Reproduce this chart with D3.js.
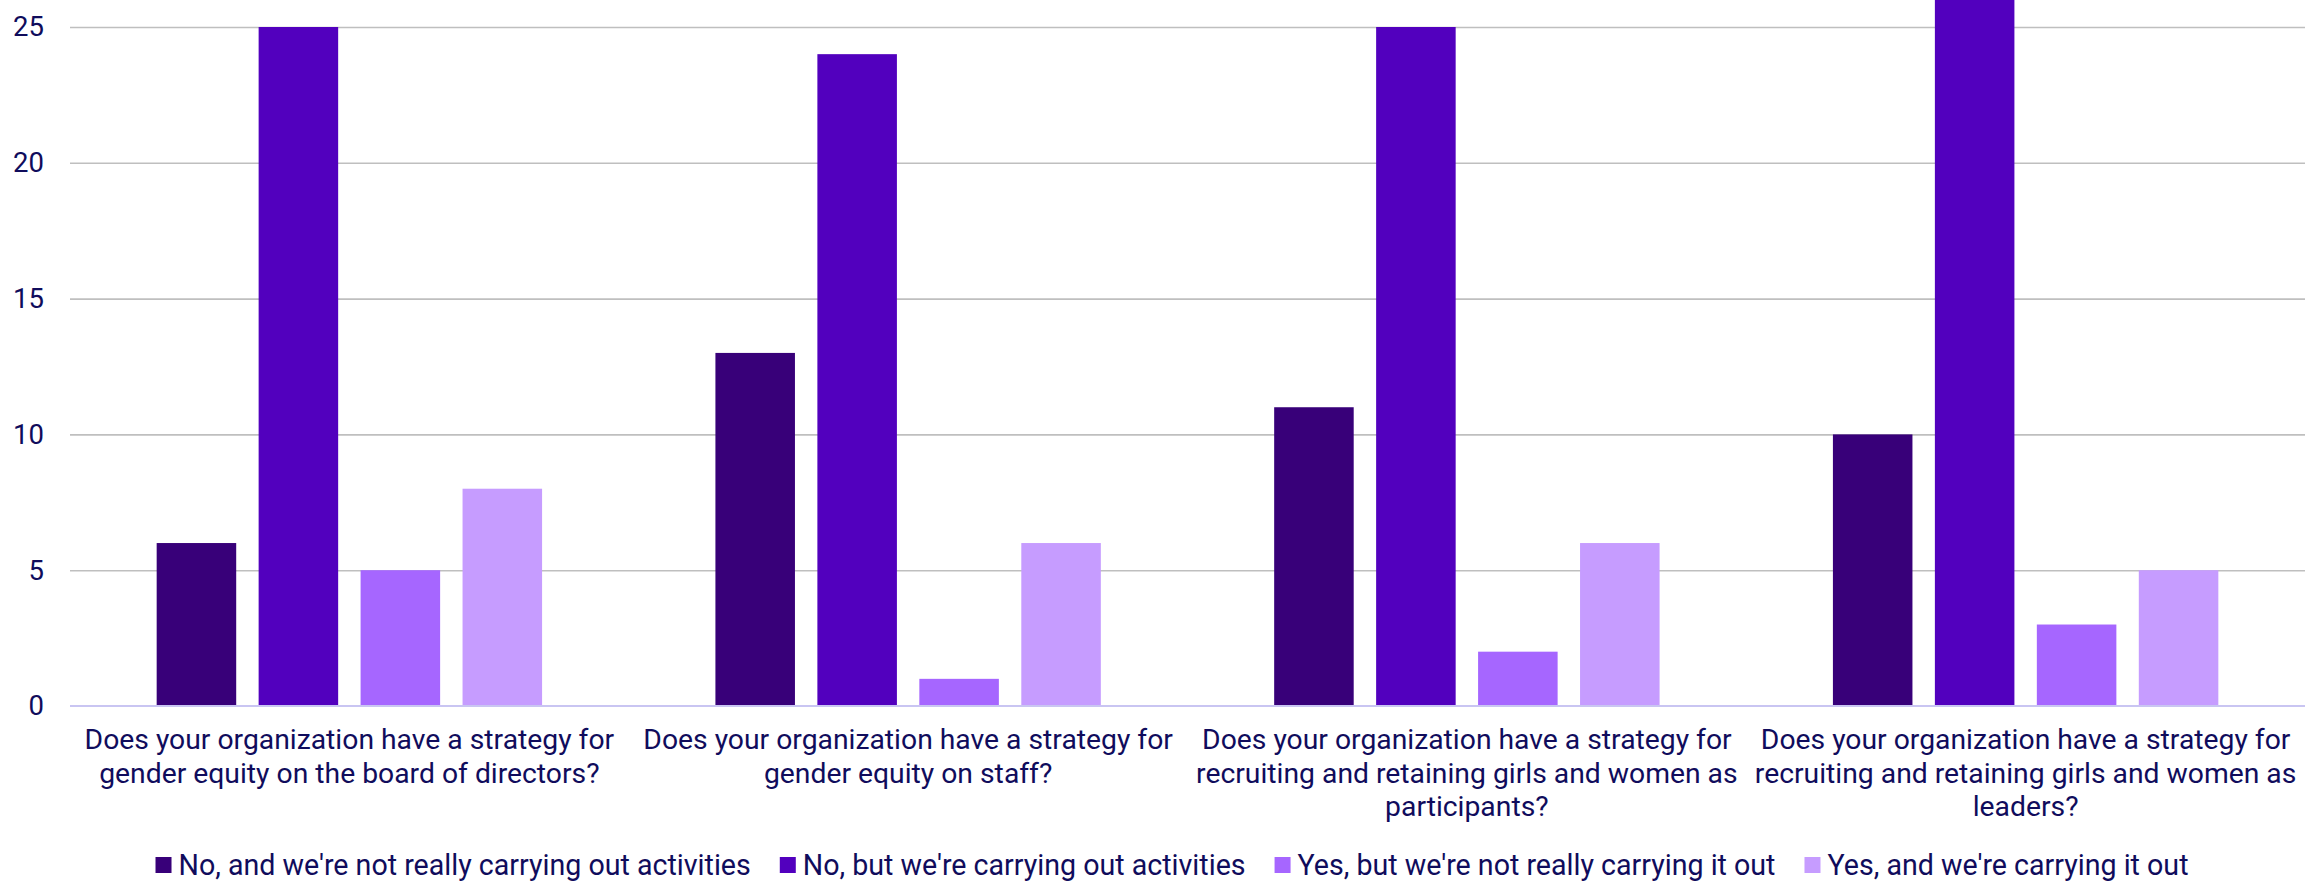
<!DOCTYPE html>
<html>
<head>
<meta charset="utf-8">
<script src="https://cdn.jsdelivr.net/npm/d3@7"></script>
<style>
  html, body { margin: 0; padding: 0; background: #ffffff; }
  svg { display: block; }
  text { font-family: Roboto, "Noto Sans", sans-serif; fill: #100C5C; }
</style>
</head>
<body>
<svg id="chart" width="2305" height="883"></svg>
<script>
const categories = [
  "Does your organization have a strategy for gender equity on the board of directors?",
  "Does your organization have a strategy for gender equity on staff?",
  "Does your organization have a strategy for recruiting and retaining girls and women as participants?",
  "Does your organization have a strategy for recruiting and retaining girls and women as leaders?"
];
const seriesNames = [
  "No, and we're not really carrying out activities",
  "No, but we're carrying out activities",
  "Yes, but we're not really carrying it out",
  "Yes, and we're carrying it out"
];
const noNotCarrying = [6, 13, 11, 10];
const noButCarrying = [25, 24, 25, 26];
const yesNotCarrying = [5, 1, 2, 3];
const yesCarrying = [8, 6, 6, 5];
const yTicks = [0, 5, 10, 15, 20, 25];
const colors = ["#380079", "#5200BE", "#A666FF", "#C69CFF"];

const seriesValues = [noNotCarrying, noButCarrying, yesNotCarrying, yesCarrying];

const W = 2305, H = 883;
const margin = { left: 70, right: 0, top: 27, bottom: 177 };
const svg = d3.select("#chart");

const x0 = d3.scaleBand().domain(categories).range([margin.left, W - margin.right]).padding(0);
const x1 = d3.scaleBand().domain(seriesNames).range([0, x0.bandwidth()])
  .paddingInner(0.22).paddingOuter(0.85);
const y = d3.scaleLinear().domain([0, 25]).range([H - margin.bottom, margin.top]);

// gridlines
const grid = svg.append("g")
  .attr("transform", `translate(${margin.left},0)`)
  .call(d3.axisLeft(y).tickValues(yTicks.filter(d => d > 0)).tickSize(-(W - margin.left - margin.right)).tickFormat(""));
grid.select(".domain").remove();
grid.selectAll("line").attr("stroke", "#BFBFBF").attr("stroke-width", 1.6);

// y labels
const yAxis = svg.append("g")
  .attr("transform", `translate(${margin.left},0)`)
  .call(d3.axisLeft(y).tickValues(yTicks).tickSize(0).tickPadding(26).tickFormat(d3.format("d")));
yAxis.select(".domain").remove();
yAxis.selectAll("text")
  .style("font-family", "Roboto, sans-serif")
  .style("font-size", "27.5px")
  .attr("fill", "#100C5C");

// bars
const groups = svg.append("g").selectAll("g")
  .data(categories)
  .join("g")
  .attr("transform", d => `translate(${x0(d)},0)`);

groups.selectAll("rect")
  .data((c, ci) => seriesNames.map((s, si) => ({ s, si, v: seriesValues[si][ci] })))
  .join("rect")
  .attr("x", d => x1(d.s))
  .attr("width", x1.bandwidth())
  .attr("y", d => y(d.v))
  .attr("height", d => y(0) - y(d.v))
  .attr("fill", d => colors[d.si]);

// baseline
svg.append("line")
  .attr("x1", margin.left).attr("x2", W - margin.right)
  .attr("y1", y(0)).attr("y2", y(0))
  .attr("stroke", "#C9C5F2").attr("stroke-width", 2);

// x labels with wrapping
const labelFont = 28.3;
const legendFont = 28.6;
const lineH = 33.5;
const maxW = 556;
const measurer = svg.append("text").style("font-size", labelFont + "px");
function wrap(str) {
  const words = str.split(" ");
  const lines = [];
  let cur = "";
  words.forEach(w => {
    const test = cur ? cur + " " + w : w;
    measurer.text(test);
    if (measurer.node().getComputedTextLength() > maxW && cur) {
      lines.push(cur);
      cur = w;
    } else {
      cur = test;
    }
  });
  if (cur) lines.push(cur);
  return lines;
}
categories.forEach(c => {
  const lines = wrap(c);
  const t = svg.append("text")
    .attr("text-anchor", "middle")
    .style("font-size", labelFont + "px")
    .attr("x", x0(c) + x0.bandwidth() / 2)
    .attr("y", 739)
    .attr("dominant-baseline", "central");
  lines.forEach((l, i) => {
    t.append("tspan")
      .attr("x", x0(c) + x0.bandwidth() / 2)
      .attr("dy", i === 0 ? 0 : lineH)
      .text(l);
  });
});

// legend
const sq = 16, sqGap = 7, itemGap = 29;
measurer.style("font-size", legendFont + "px");
const widths = seriesNames.map(s => { measurer.text(s); return measurer.node().getComputedTextLength(); });
measurer.remove();
const total = d3.sum(widths) + seriesNames.length * (sq + sqGap) + (seriesNames.length - 1) * itemGap;
let lx = 1172 - total / 2;
const ly = 865;
const legend = svg.append("g");
seriesNames.forEach((s, i) => {
  legend.append("rect")
    .attr("x", lx).attr("y", ly - sq / 2)
    .attr("width", sq).attr("height", sq)
    .attr("fill", colors[i]);
  legend.append("text")
    .attr("x", lx + sq + sqGap).attr("y", ly)
    .attr("dominant-baseline", "central")
    .style("font-size", legendFont + "px")
    .text(s);
  lx += sq + sqGap + widths[i] + itemGap;
});
</script>
</body>
</html>
